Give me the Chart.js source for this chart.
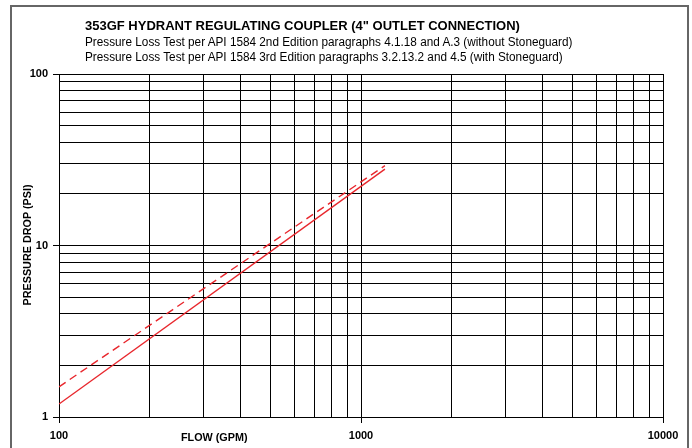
<!DOCTYPE html>
<html><head><meta charset="utf-8">
<script src="https://cdn.jsdelivr.net/npm/chart.js@4.4.1/dist/chart.umd.min.js"></script>
<style>
html,body{margin:0;padding:0;background:#fff;}
#wrap{position:relative;width:692px;height:448px;overflow:hidden;font-family:"Liberation Sans",Arial,Helvetica,sans-serif;}
canvas{position:absolute;left:0;top:0;}
.frame{position:absolute;left:10px;top:5px;width:679px;height:480px;border:2px solid #666;border-bottom:none;box-sizing:border-box;pointer-events:none;}
.t{position:absolute;white-space:nowrap;color:#000;line-height:1;}
</style></head><body>
<div id="wrap">
<canvas id="c" width="692" height="448"></canvas>
<div class="frame"></div>
<div class="t" style="left:85px;top:19px;font-weight:bold;font-size:13px;">353GF HYDRANT REGULATING COUPLER (4" OUTLET CONNECTION)</div>
<div class="t" style="left:85px;top:36px;font-size:12px;transform:scaleX(0.98);transform-origin:left center;">Pressure Loss Test per API 1584 2nd Edition paragraphs 4.1.18 and A.3 (without Stoneguard)</div>
<div class="t" style="left:85px;top:51px;font-size:12px;transform:scaleX(0.98);transform-origin:left center;">Pressure Loss Test per API 1584 3rd Edition paragraphs 3.2.13.2 and 4.5 (with Stoneguard)</div>
<div class="t" style="left:181px;top:432px;font-weight:bold;font-size:10.8px;">FLOW (GPM)</div>
<div class="t" style="left:27px;top:245px;font-weight:bold;font-size:10.8px;transform:translate(-50%,-50%) rotate(-90deg);">PRESSURE DROP (PSI)</div>
</div>
<script>
// Data
const flowGPM = [100, 1200];
const dropWithoutStoneguard = [1.19, 27.9];  // solid line
const dropWithStoneguard = [1.50, 29.2];     // dashed line

// Axis ticks
const xTickValues = [100,200,300,400,500,600,700,800,900,1000,2000,3000,4000,5000,6000,7000,8000,9000,10000];
const xTickLabels = [100, 1000, 10000];
const yTickValues = [1,2,3,4,5,6,7,8,9,10,20,30,40,50,60,70,80,90,100];
const yTickLabels = [1, 10, 100];

const FONT = '"Liberation Sans", Arial, Helvetica, sans-serif';

function pts(xs, ys){ return xs.map((x,i)=>({x:x, y:ys[i]})); }

new Chart(document.getElementById('c'), {
  type: 'line',
  data: {
    datasets: [
      { label: 'without Stoneguard', data: pts(flowGPM, dropWithoutStoneguard),
        borderColor: '#e8262c', borderWidth: 1.4, pointRadius: 0, fill: false, tension: 0 },
      { label: 'with Stoneguard', data: pts(flowGPM, dropWithStoneguard),
        borderColor: '#e8262c', borderWidth: 1.4, borderDash: [8,5], pointRadius: 0, fill: false, tension: 0 }
    ]
  },
  options: {
    responsive: false,
    animation: false,
    layout: { padding: { left: 0, top: 74, right: 29, bottom: 0 } },
    plugins: { legend: { display: false }, title: { display: false }, tooltip: { enabled: false } },
    scales: {
      x: {
        type: 'logarithmic', min: 100, max: 10000,
        afterBuildTicks: s => { s.ticks = xTickValues.map(v => ({ value: v })); },
        afterFit: s => { s.height = 31; },
        ticks: {
          autoSkip: false, maxRotation: 0, padding: 6, color: '#000',
          font: { family: FONT, size: 11, weight: 'bold' },
          callback: v => xTickLabels.includes(v) ? String(v) : ''
        },
        grid: {
          color: '#000', lineWidth: 1, tickLength: 6,
          tickColor: c => (c.tick && xTickLabels.includes(c.tick.value)) ? '#000' : 'rgba(0,0,0,0)'
        },
        border: { display: true, color: '#000', width: 1 }
      },
      y: {
        type: 'logarithmic', min: 1, max: 100,
        afterBuildTicks: s => { s.ticks = yTickValues.map(v => ({ value: v })); },
        afterFit: s => { s.width = 59; },
        ticks: {
          autoSkip: false, padding: 5, color: '#000',
          font: { family: FONT, size: 11, weight: 'bold' },
          callback: v => yTickLabels.includes(v) ? String(v) : ''
        },
        grid: {
          color: '#000', lineWidth: 1, tickLength: 6,
          tickColor: c => (c.tick && yTickLabels.includes(c.tick.value)) ? '#000' : 'rgba(0,0,0,0)'
        },
        border: { display: true, color: '#000', width: 1 }
      }
    }
  }
});
</script>
</body></html>
